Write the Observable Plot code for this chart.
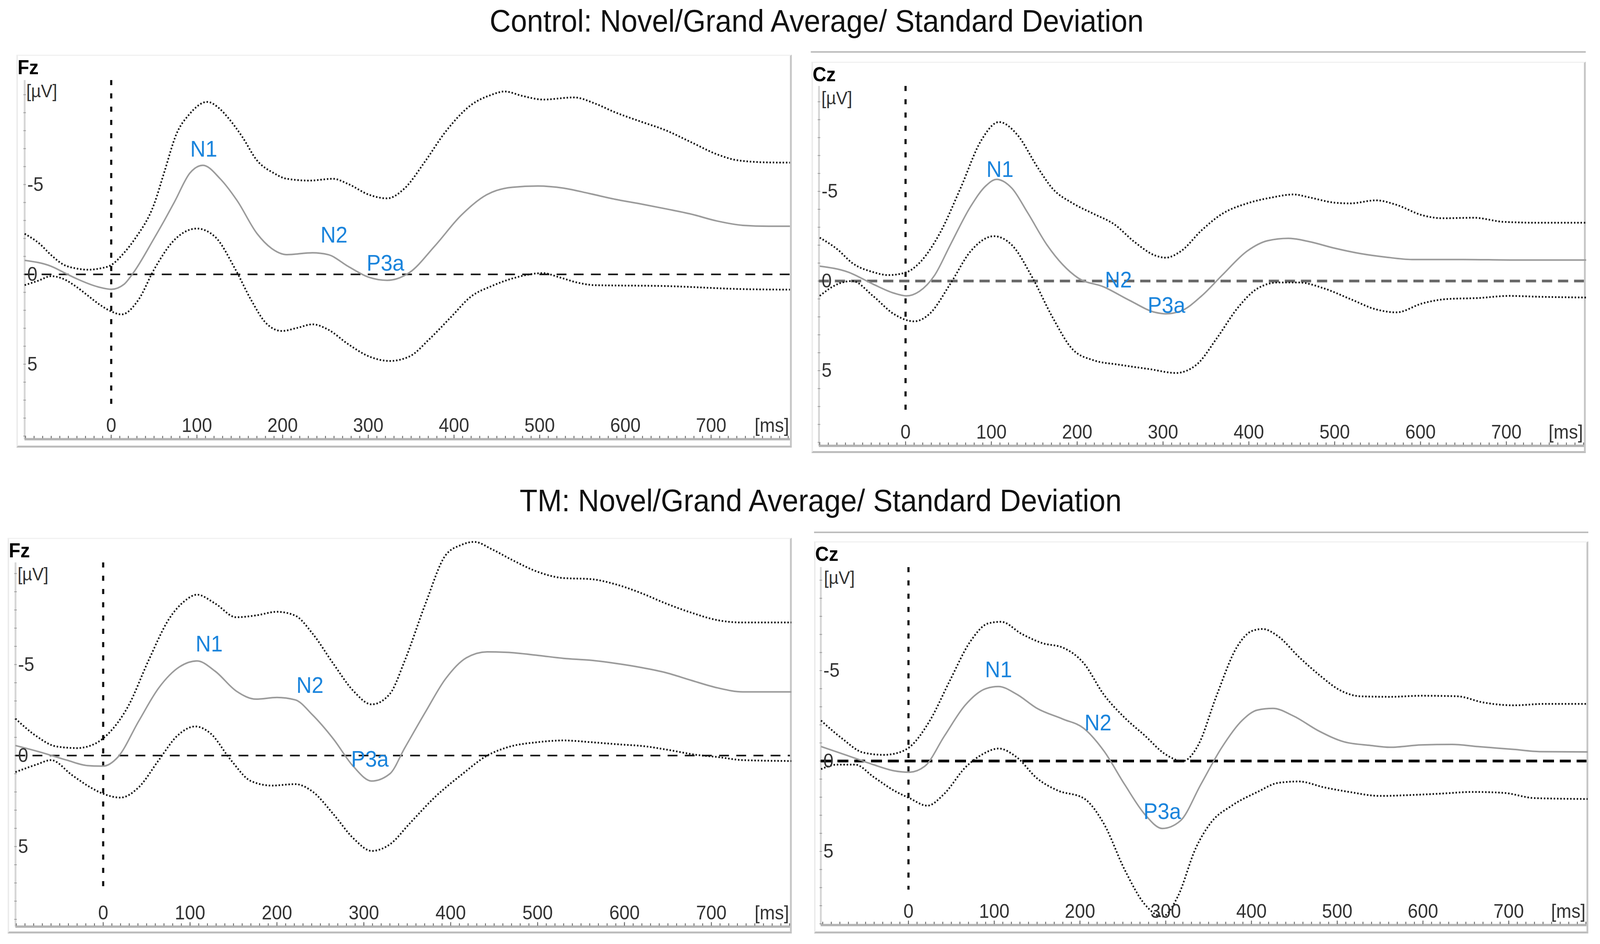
<!DOCTYPE html>
<html><head><meta charset="utf-8">
<script src="https://cdn.jsdelivr.net/npm/d3@7"></script>
<script src="https://cdn.jsdelivr.net/npm/@observablehq/plot@0.6"></script>
<style>
html,body{margin:0;padding:0;background:#fff;overflow:hidden;width:100%;height:100%;}
body{position:relative;font-family:"Liberation Sans",Arial,sans-serif;}
#root{position:absolute;left:0;top:0;width:4381px;height:2417px;transform-origin:0 0;background:#fff;}
.abs{position:absolute;white-space:nowrap;line-height:1;}
.frame{position:absolute;box-sizing:border-box;border-top:3px solid #f1f1f1;border-left:4px solid #ebebeb;border-right:5px solid #c6c6c6;border-bottom:5px solid #bdbdbd;}
.title{font-size:80px;color:#111;transform:translateX(-50%);}
.ch{font-size:52px;font-weight:bold;color:#000;}
.unit{font-size:47px;color:#333;}
.sep{position:absolute;height:4px;background:#bdbdbd;}
</style></head><body>
<div id="root"></div>
<script>
// ---------- data ----------
const titles = ["Control: Novel/Grand Average/ Standard Deviation", "TM: Novel/Grand Average/ Standard Deviation"];
const channelNames = ["Fz", "Cz", "Fz", "Cz"];
const unitLabel = "[µV]";
const timeUnitLabel = "[ms]";
const xTickLabels = [0, 100, 200, 300, 400, 500, 600, 700];
const xMinorTicks = d3.range(-100, 800, 10);
const yTickLabels = [-5, 0, 5];
const yMinorTicks = d3.range(-10, 10, 1);
const peakNames = ["N1", "N2", "P3a"];

// Control Fz
const ctrlFzMeanT = [-101,-70,-51,-40,-15,0,15,26,50,62,74,92,107,127,147,170,187,205,235,253,277,300,322,348,378,408,438,468,498,528,558,588,617,647,677,707,737,767,792];
const ctrlFzMeanV = [-0.78,-0.45,0,0.25,0.7,0.83,0.55,-0.1,-2.0,-3.0,-4.05,-5.65,-6.07,-5.33,-4.1,-2.28,-1.45,-1.1,-1.2,-1.1,-0.43,0.15,0.33,-0.1,-1.6,-3.27,-4.43,-4.85,-4.92,-4.8,-4.5,-4.18,-3.93,-3.65,-3.35,-2.97,-2.73,-2.68,-2.68];
const ctrlFzUpperT = [-101,-84,-70,-56,-41,-27,-13,0,15,28,50,62,76,91,112,127,136,153,170,190,204,231,259,277,301,322,342,366,390,420,444,459,480,504,540,564,588,617,647,677,707,731,767,792];
const ctrlFzUpperV = [-2.26,-1.72,-1.07,-0.55,-0.33,-0.26,-0.33,-0.52,-1.2,-2.0,-3.9,-5.7,-7.8,-8.9,-9.6,-9.2,-8.74,-7.65,-6.35,-5.63,-5.33,-5.22,-5.32,-5.02,-4.43,-4.23,-4.77,-6.27,-7.93,-9.43,-10.0,-10.18,-9.93,-9.73,-9.85,-9.52,-9.02,-8.52,-8.02,-7.35,-6.68,-6.35,-6.23,-6.22];
const ctrlFzLowerT = [-101,-85,-70,-56,-41,-27,-13,0,12,32,50,74,100,121,145,163,181,199,217,235,253,277,301,325,348,372,396,420,444,468,504,522,546,564,647,737,792];
const ctrlFzLowerV = [0.6,0.35,0.1,0.25,0.68,1.19,1.7,2.06,2.23,1.4,-0.27,-1.93,-2.55,-2.1,-0.27,1.4,2.73,3.15,2.98,2.78,3.07,3.9,4.57,4.82,4.57,3.57,2.4,1.23,0.65,0.23,-0.07,0.15,0.48,0.6,0.65,0.82,0.85];
const ctrlFzPeakT = [108, 260, 320];
const ctrlFzPeakV = [-6.95, -2.18, -0.6];

// Control Cz
const ctrlCzMeanT = [-100,-67,-38,-14,1,16,34,52,76,94,106,124,142,165,183,201,231,261,291,303,321,345,369,398,422,446,470,500,530,560,590,650,709,793];
const ctrlCzMeanV = [-0.83,-0.5,0.17,0.67,0.83,0.58,-0.33,-2.0,-4.17,-5.33,-5.67,-5.17,-3.83,-2.0,-0.92,-0.17,0.33,1.08,1.75,1.83,1.67,0.83,-0.33,-1.67,-2.25,-2.38,-2.2,-1.83,-1.53,-1.33,-1.2,-1.2,-1.17,-1.17];
const ctrlCzUpperT = [-100,-79,-62,-38,-20,0,16,40,64,88,109,130,154,171,195,219,243,267,291,303,321,345,369,398,428,452,470,500,518,548,572,602,626,662,697,739,793];
const ctrlCzUpperV = [-2.42,-1.75,-1.0,-0.5,-0.33,-0.47,-1.0,-2.67,-5.17,-7.83,-8.87,-8.17,-6.33,-5.17,-4.33,-3.75,-3.17,-2.17,-1.42,-1.3,-1.67,-2.83,-3.75,-4.33,-4.67,-4.83,-4.67,-4.37,-4.33,-4.5,-4.25,-3.67,-3.5,-3.53,-3.3,-3.25,-3.25];
const ctrlCzLowerT = [-100,-79,-62,-38,-14,10,28,52,76,103,124,148,171,195,219,249,285,315,339,363,387,410,434,458,488,518,548,572,602,632,667,703,739,793];
const ctrlCzLowerV = [0.83,0.17,0,0.83,1.83,2.25,1.83,0.17,-1.67,-2.5,-2.0,-0.17,2.0,3.83,4.42,4.67,4.92,5.13,4.67,3.17,1.5,0.42,0.08,0.08,0.42,1.0,1.58,1.75,1.25,1.0,0.95,0.83,0.88,0.92];
const ctrlCzPeakT = [110, 248, 304];
const ctrlCzPeakV = [-6.2, -0.05, 1.37];

// TM Fz
const tmFzMeanT = [-101,-71,-42,-18,0,17,41,64,88,108,129,153,176,200,221,241,265,288,309,330,347,371,394,418,442,465,501,530,560,589,619,648,677,707,736,792];
const tmFzMeanV = [-0.55,-0.17,0.25,0.55,0.58,0.08,-1.9,-3.72,-4.88,-5.2,-4.63,-3.55,-3.1,-3.19,-3.06,-2.23,-0.91,0.6,1.4,1.0,-0.41,-2.4,-4.21,-5.37,-5.7,-5.67,-5.5,-5.34,-5.24,-5.07,-4.84,-4.55,-4.13,-3.72,-3.5,-3.5];
const tmFzUpperT = [-101,-77,-54,-30,-9,5,29,52,76,94,108,129,153,176,200,221,241,265,288,309,330,347,371,394,412,427,448,471,501,530,560,589,619,648,677,707,736,792];
const tmFzUpperV = [-2.03,-1.07,-0.5,-0.41,-0.66,-1.16,-2.73,-5.2,-7.52,-8.5,-8.84,-8.35,-7.6,-7.7,-7.9,-7.69,-6.7,-5.04,-3.55,-2.81,-3.39,-5.2,-8.35,-11.0,-11.57,-11.74,-11.32,-10.74,-10.08,-9.75,-9.7,-9.42,-8.93,-8.35,-7.85,-7.44,-7.31,-7.31];
const tmFzLowerT = [-101,-77,-60,-36,-15,0,20,41,64,85,106,123,147,170,194,221,241,265,288,309,330,353,383,412,442,465,501,530,560,589,625,648,684,707,736,792];
const tmFzLowerV = [0.91,0.5,0.25,1.07,1.74,2.1,2.31,1.74,0.25,-1.07,-1.6,-1.24,0.25,1.4,1.65,1.57,1.98,3.22,4.55,5.24,4.88,3.72,2.23,1.07,0,-0.45,-0.74,-0.83,-0.74,-0.63,-0.5,-0.33,-0.03,0.08,0.25,0.3];
const tmFzPeakT = [122, 238, 307];
const tmFzPeakV = [-6.12, -3.85, 0.21];

// TM Cz
const tmCzMeanT = [-102,-71,-41,-17,1,19,42,66,90,105,126,150,180,204,228,252,276,296,317,341,365,389,407,425,449,479,508,539,562,598,634,664,706,736,792];
const tmCzMeanV = [-0.8,-0.3,0.2,0.54,0.62,0.29,-1.39,-3.08,-4.0,-4.12,-3.7,-2.91,-2.32,-1.82,-0.55,1.29,2.97,3.73,3.31,1.29,-0.72,-2.24,-2.82,-2.91,-2.49,-1.65,-1.06,-0.86,-0.76,-0.89,-0.92,-0.8,-0.64,-0.52,-0.5];
const tmCzUpperT = [-102,-77,-53,-29,-11,1,25,48,72,93,108,132,156,180,204,228,252,276,299,320,338,359,383,401,413,431,455,479,503,527,562,598,640,670,706,742,792];
const tmCzUpperV = [-2.24,-1.23,-0.47,-0.34,-0.47,-0.76,-2.24,-4.42,-6.6,-7.61,-7.7,-7.03,-6.52,-6.27,-5.43,-3.66,-2.4,-1.39,-0.39,0,-0.89,-3.58,-6.3,-7.2,-7.3,-6.9,-5.77,-4.76,-3.92,-3.58,-3.55,-3.61,-3.58,-3.24,-3.08,-3.16,-3.16];
const tmCzLowerT = [-102,-83,-62,-41,-17,1,22,42,66,87,105,126,150,174,204,228,252,276,296,314,335,353,377,407,431,455,485,514,550,586,622,658,694,730,792];
const tmCzLowerV = [0.45,0.2,0.2,0.87,1.63,2.05,2.47,1.8,0.37,-0.39,-0.69,-0.22,0.96,1.63,2.05,3.48,6.0,7.95,8.6,7.5,4.82,3.39,2.47,1.71,1.21,1.13,1.46,1.71,1.93,1.88,1.8,1.71,1.76,2.05,2.1];
const tmCzPeakT = [105, 221, 296];
const tmCzPeakV = [-5.04, -2.1, 2.8];

// ---------- layout (pixels in the 4381x2417 design) ----------
const geo = [
  {left:45, top:140, right:2168, bottom:1146, axisX:67, x0:304, xk:2.3465, xEndPx:2163, axisTop:205, xAxisY:1124, y0:702, yk:46.0, zeroStroke:"#111", zeroW:4, zeroDash:"27 20"},
  {left:2222, top:158, right:4342, bottom:1160, axisX:2242, x0:2479, xk:2.35, xEndPx:4337, axisTop:220, xAxisY:1141, y0:719, yk:45.9, zeroStroke:"#6a6a6a", zeroW:7, zeroDash:"28 16"},
  {left:21, top:1377, right:2168, bottom:2390, axisX:42, x0:282, xk:2.379, xEndPx:2163, axisTop:1440, xAxisY:2372, y0:1934, yk:46.6, zeroStroke:"#111", zeroW:4, zeroDash:"27 20"},
  {left:2229, top:1386, right:4349, bottom:2390, axisX:2247, x0:2487, xk:2.348, xEndPx:4344, axisTop:1452, xAxisY:2368, y0:1948, yk:46.3, zeroStroke:"#000", zeroW:7, zeroDash:"30 16"}
];

const panels = [
  {mean:[ctrlFzMeanT, ctrlFzMeanV], upper:[ctrlFzUpperT, ctrlFzUpperV], lower:[ctrlFzLowerT, ctrlFzLowerV], peaks:[ctrlFzPeakT, ctrlFzPeakV]},
  {mean:[ctrlCzMeanT, ctrlCzMeanV], upper:[ctrlCzUpperT, ctrlCzUpperV], lower:[ctrlCzLowerT, ctrlCzLowerV], peaks:[ctrlCzPeakT, ctrlCzPeakV]},
  {mean:[tmFzMeanT, tmFzMeanV], upper:[tmFzUpperT, tmFzUpperV], lower:[tmFzLowerT, tmFzLowerV], peaks:[tmFzPeakT, tmFzPeakV]},
  {mean:[tmCzMeanT, tmCzMeanV], upper:[tmCzUpperT, tmCzUpperV], lower:[tmCzLowerT, tmCzLowerV], peaks:[tmCzPeakT, tmCzPeakV]}
];

const root = document.getElementById("root");
function addDiv(cls, text, css) {
  const d = document.createElement("div");
  d.className = cls;
  d.textContent = text;
  Object.assign(d.style, css);
  root.appendChild(d);
  return d;
}

addDiv("abs title", titles[0], {left: "2236px", top: (82 - 0.8465 * 80) + "px"});
addDiv("abs title", titles[1], {left: "2247px", top: (1310 - 0.8465 * 80) + "px"});
addDiv("sep", "", {left: "2220px", top: "131px", width: "2122px"});
addDiv("sep", "", {left: "2229px", top: "1361px", width: "2120px"});

const fmtY = d => d < 0 ? "-" + Math.abs(d) : String(d);

panels.forEach((p, i) => {
  const g = geo[i];
  const xStart = (g.axisX - g.x0) / g.xk, xEnd = (g.xEndPx - g.x0) / g.xk;
  const yTop = (g.axisTop - g.y0) / g.yk, yBot = (g.xAxisY - g.y0) / g.yk;
  const W = g.right - g.left, H = g.bottom - g.top;

  addDiv("frame", "", {left: g.left + "px", top: g.top + "px", width: W + "px", height: H + "px"});

  const trace = (pair, stroke, w, dash) => Plot.line(pair[0], {
    x: pair[0], y: pair[1], curve: "monotone-x", stroke, strokeWidth: w,
    strokeDasharray: dash, strokeLinecap: "butt", strokeLinejoin: "round"
  });

  const chart = Plot.plot({
    width: W, height: H,
    marginLeft: g.axisX - g.left, marginRight: g.right - g.xEndPx,
    marginTop: g.axisTop - g.top, marginBottom: g.bottom - g.xAxisY,
    x: {domain: [xStart, xEnd], axis: null},
    y: {domain: [yBot, yTop], axis: null},
    style: {fontFamily: "'Liberation Sans', Arial, sans-serif", background: "transparent", overflow: "visible", maxWidth: "none"},
    marks: [
      Plot.ruleX([xStart], {y1: yTop, y2: yBot, stroke: "#d6d6d6", strokeWidth: 5}),
      Plot.axisY({anchor: "left", ticks: yMinorTicks, tickSize: 7, dx: 4, tickFormat: () => "", stroke: "#9a9a9a", strokeWidth: 2}),
      Plot.ruleY([yBot], {stroke: "#b3b3b3", strokeWidth: 6}),
      Plot.axisX({anchor: "bottom", ticks: xMinorTicks, tickSize: 6, dy: -8, tickFormat: () => "", stroke: "#6f6f6f", strokeWidth: 2.5}),
      Plot.axisX({anchor: "bottom", ticks: xTickLabels, tickSize: 9, dy: -11, tickFormat: () => "", stroke: "#6f6f6f", strokeWidth: 2.5}),
      Plot.ruleY([0], {stroke: g.zeroStroke, strokeWidth: g.zeroW, strokeDasharray: g.zeroDash}),
      Plot.ruleX([0], {y1: yTop, y2: yBot - 1.95, stroke: "#111", strokeWidth: 6, strokeDasharray: "13 21"}),
      trace(p.upper, "#111", 4.5, "4 5"),
      trace(p.lower, "#111", 4.5, "4 5"),
      trace(p.mean, "#9b9b9b", 4, null),
      Plot.text(xTickLabels, {x: d => d, frameAnchor: "bottom", dy: -35, lineAnchor: "middle", text: d => String(d), fill: "#333", fontSize: 50}),
      Plot.text([timeUnitLabel], {frameAnchor: "bottom-right", dy: -35, dx: -3, textAnchor: "end", lineAnchor: "middle", text: d => d, fill: "#333", fontSize: 50}),
      Plot.text(yTickLabels, {y: d => d, frameAnchor: "left", dx: 7, textAnchor: "start", lineAnchor: "middle", text: fmtY, fill: "#333", fontSize: 50}),
      Plot.text(peakNames, {x: p.peaks[0], y: p.peaks[1], text: d => d, fill: "#1a84dc", fontSize: 58, lineAnchor: "middle"})
    ]
  });
  const holder = document.createElement("div");
  holder.style.position = "absolute";
  holder.style.left = g.left + "px";
  holder.style.top = g.top + "px";
  holder.appendChild(chart);
  root.appendChild(holder);

  addDiv("abs ch", channelNames[i], {left: (g.left + 3) + "px", top: (g.top + 50 - 0.8465 * 52) + "px"});
  addDiv("abs unit", unitLabel, {left: (g.left + 27) + "px", top: (g.top + 109 - 0.8465 * 47) + "px"});
});

// fit the 4381x2417 design into the actual viewport
function fit() {
  const vw = document.documentElement.clientWidth || window.innerWidth;
  const vh = document.documentElement.clientHeight || window.innerHeight;
  const sx = vw / 4381, sy = vh / 2417;
  root.style.transform = `scale(${sx}, ${sy})`;
}
fit();
window.addEventListener("resize", fit);
</script>
</body></html>
